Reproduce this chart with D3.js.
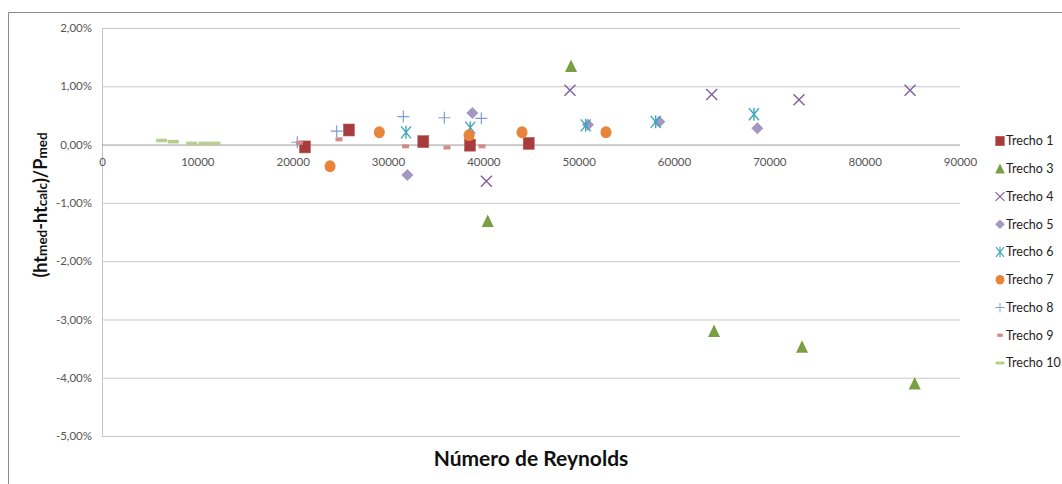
<!DOCTYPE html>
<html>
<head>
<meta charset="utf-8">
<script src="https://cdn.jsdelivr.net/npm/d3@7"></script>
<style>
  html, body { margin: 0; padding: 0; background: #fff; }
  svg { display: block; }
</style>
</head>
<body>
<svg id="chart" width="1062" height="484"></svg>
<script>
// Relative error of the friction head vs. Reynolds number, per pipe section
const trecho1 = [[21290, -0.0004], [25900, 0.0025], [33700, 0.0005], [38600, -0.0001], [44760, 0.0002]];
const trecho3 = [[40460, -0.0131], [49200, 0.0135], [64200, -0.0320], [73430, -0.0347], [85250, -0.0410]];
const trecho4 = [[40320, -0.0063], [49090, 0.0093], [63950, 0.0086], [73110, 0.0077], [84760, 0.0093]];
const trecho5 = [[32030, -0.0052], [38850, 0.0054], [50980, 0.0034], [58460, 0.0039], [68740, 0.0028]];
const trecho6 = [[31890, 0.0021], [38630, 0.0029], [50740, 0.0033], [58080, 0.0039], [68390, 0.0052]];
const trecho7 = [[23920, -0.0037], [29090, 0.0021], [38500, 0.0016], [44060, 0.0021], [52870, 0.0021]];
const trecho8 = [[20490, 0.0004], [24620, 0.0023], [31610, 0.0048], [35910, 0.0046], [39790, 0.0045]];
const trecho9 = [[20700, 0.0003], [24860, 0.0009], [31840, -0.0003], [36190, -0.0005], [39860, -0.0003]];
const trecho10 = [[6260, 0.0007], [7480, 0.0005], [9410, 0.0002], [10700, 0.0002], [11850, 0.0002]];

const seriesNames = ["Trecho 1", "Trecho 3", "Trecho 4", "Trecho 5", "Trecho 6", "Trecho 7", "Trecho 8", "Trecho 9", "Trecho 10"];
const seriesData = [trecho1, trecho3, trecho4, trecho5, trecho6, trecho7, trecho8, trecho9, trecho10];
const seriesColors = ["#A83B3B", "#7A9F42", "#7E5F9E", "#A497C4", "#3FA7BC", "#E8853A", "#7F9ED0", "#D48A88", "#B8CE8E"];
const seriesShapes = ["square", "triangle", "x", "diamond", "asterisk", "circle", "plus", "smalldash", "dash"];

const xTicks = [0, 10000, 20000, 30000, 40000, 50000, 60000, 70000, 80000, 90000];
const yTicks = [0.02, 0.01, 0, -0.01, -0.02, -0.03, -0.04, -0.05];

const svg = d3.select("#chart");
const plot = { left: 102, right: 960, top: 28, bottom: 436 };

const x = d3.scaleLinear().domain([0, 90000]).range([plot.left, plot.right]);
const y = d3.scaleLinear().domain([-0.05, 0.02]).range([plot.bottom, plot.top]);

const fmtPct = v => (v * 100).toFixed(2).replace(".", ",").replace("-0,00", "0,00") + "%";

// Outer chart frame
svg.append("path")
  .attr("d", "M8.5,484 L8.5,12.5 L1062,12.5")
  .attr("fill", "none").attr("stroke", "#8c8c8c").attr("stroke-width", 1);

// Horizontal gridlines with value labels
const yAxis = d3.axisLeft(y).tickValues(yTicks).tickFormat(fmtPct)
  .tickSize(-(plot.right - plot.left)).tickPadding(10);
const gy = svg.append("g").attr("transform", `translate(${plot.left},0)`).call(yAxis);
gy.select(".domain").attr("stroke", "#c4c4c4");
gy.selectAll(".tick line")
  .attr("stroke", d => d === 0 ? "#9a9a9a" : "#c8c8c8").attr("stroke-width", 1);
gy.selectAll(".tick text")
  .attr("font-family", "Lato, 'Open Sans', sans-serif").attr("font-size", 11.5)
  .attr("fill", "#555").attr("x", -10);

// Reynolds axis labels along the zero line
const xAxis = d3.axisBottom(x).tickValues(xTicks).tickFormat(d3.format("d")).tickSize(0).tickPadding(13);
const gx = svg.append("g").attr("transform", `translate(0,${y(0)})`).call(xAxis);
gx.select(".domain").remove();
gx.selectAll(".tick text")
  .attr("font-family", "Lato, 'Open Sans', sans-serif").attr("font-size", 11.5)
  .attr("fill", "#555");

// Marker shapes
function drawMarker(g, shape, color) {
  switch (shape) {
    case "square":
      g.append("rect").attr("x", -5.5).attr("y", -6).attr("width", 11).attr("height", 12)
        .attr("fill", color).attr("stroke", "#b46060").attr("stroke-width", 0.6);
      break;
    case "triangle":
      g.append("path").attr("d", "M0,-6.5 L6,6 L-6,6 Z").attr("fill", color);
      break;
    case "x":
      g.append("path").attr("d", "M-5.5,-5.5 L5.5,5.5 M-5.5,5.5 L5.5,-5.5")
        .attr("stroke", color).attr("stroke-width", 1.4).attr("fill", "none");
      break;
    case "diamond":
      g.append("path").attr("d", "M0,-6 L6,0 L0,6 L-6,0 Z").attr("fill", color);
      break;
    case "asterisk":
      g.append("path").attr("d", "M-5,-6 L5,6 M-5,6 L5,-6 M0,-6.5 L0,6.5")
        .attr("stroke", color).attr("stroke-width", 1.4).attr("fill", "none");
      break;
    case "circle":
      g.append("ellipse").attr("rx", 5.5).attr("ry", 6).attr("fill", color);
      break;
    case "plus":
      g.append("path").attr("d", "M-6,0 L6,0 M0,-6 L0,6")
        .attr("stroke", color).attr("stroke-width", 1.2).attr("fill", "none");
      break;
    case "smalldash":
      g.append("rect").attr("x", -3.5).attr("y", -2).attr("width", 7).attr("height", 4).attr("fill", color);
      break;
    case "dash":
      g.append("rect").attr("x", -5.5).attr("y", -1.8).attr("width", 11).attr("height", 3.6).attr("fill", color);
      break;
  }
}

// Data points
seriesData.forEach((pts, i) => {
  const g = svg.append("g").attr("class", "series");
  g.selectAll("g.pt").data(pts).join("g").attr("class", "pt")
    .attr("transform", d => `translate(${x(d[0])},${y(d[1])})`)
    .each(function () { drawMarker(d3.select(this), seriesShapes[i], seriesColors[i]); });
});

// Legend
const legend = svg.append("g").attr("transform", "translate(1000,141)");
seriesNames.forEach((name, i) => {
  const row = legend.append("g").attr("transform", `translate(0,${i * 27.75})`);
  const m = row.append("g").attr("transform", "scale(0.8)");
  drawMarker(m, seriesShapes[i], seriesColors[i]);
  row.append("text").attr("x", 6).attr("y", 0).attr("dy", "0.35em")
    .attr("font-family", "Lato, 'Open Sans', sans-serif").attr("font-size", 12.5)
    .attr("fill", "#222").text(name);
});

// Axis titles
svg.append("text")
  .attr("x", 531).attr("y", 466).attr("text-anchor", "middle")
  .attr("font-family", "Lato, 'Open Sans', sans-serif").attr("font-weight", "bold")
  .attr("font-size", 21).attr("fill", "#111").text("Número de Reynolds");

const yt = svg.append("text")
  .attr("transform", "translate(47,205) rotate(-90)").attr("text-anchor", "middle")
  .attr("font-family", "Lato, 'Open Sans', sans-serif").attr("font-weight", "bold")
  .attr("font-size", 18).attr("fill", "#111");
[["(ht", 18], ["med", 13.5], ["-ht", 18], ["calc", 13.5], [")/P", 18], ["med", 13.5]]
  .forEach(([t, s]) => yt.append("tspan").attr("font-size", s).text(t));
</script>
</body>
</html>
